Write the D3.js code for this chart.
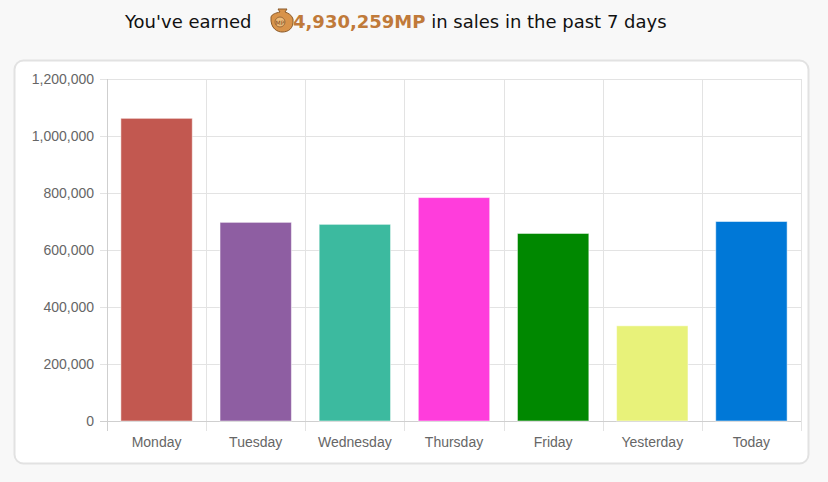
<!DOCTYPE html><html><head><meta charset="utf-8">
<script src="https://cdn.jsdelivr.net/npm/d3@7"></script>
<style>body{margin:0;background:#f8f8f8;}svg{display:block}</style></head><body>
<svg id="c" width="828" height="482"></svg>
<script>
const categories=["Monday","Tuesday","Wednesday","Thursday","Friday","Yesterday","Today"];
const values=[1062000,697000,690000,784000,658000,334000,700000];
const colors=["#c25850","#8e5ea2","#3cba9f","#ff3ddc","#008800","#e8f27a","#0078d7"];
const yTicks=[0,200000,400000,600000,800000,1000000,1200000];
const svg=d3.select("#c");
svg.append("rect").attr("x",14.5).attr("y",60.5).attr("width",794).attr("height",403).attr("rx",9).attr("fill","#fff").attr("stroke","#e2e2e2").attr("stroke-width",2);
// title
const t=svg.append("text").attr("y",28).attr("font-family","DejaVu Sans, Verdana").attr("font-size",18).attr("fill","#111");
t.append("tspan").attr("x",125).text("You've earned ");
const g=svg.append("g").attr("transform","translate(282,21)");
g.append("path").attr("d","M-11,-4 C-12,8 -4,11 0,11 C6,11 12,8 11,-2 C10,-6 6,-8 3,-9 L5,-12 L-4,-12 L-2,-9 C-6,-8 -10,-7 -11,-4Z").attr("fill","#d8934a").attr("stroke","#8a5a2a").attr("stroke-width",1);
g.append("circle").attr("cx",-2).attr("cy",1).attr("r",5).attr("fill","#eebc7a").attr("stroke","#9a6a3a");
g.append("text").attr("x",-2).attr("y",3.5).attr("text-anchor","middle").attr("font-size",6).attr("font-family","DejaVu Sans").attr("fill","#7a4a1a").text("MP");
const t2=svg.append("text").attr("y",28).attr("font-family","DejaVu Sans, Verdana").attr("font-size",18).attr("fill","#111");
t2.append("tspan").attr("x",293).attr("font-weight","bold").attr("fill","#c07a3a").text("4,930,259MP");
t2.append("tspan").text(" in sales in the past 7 days");
const x=d3.scaleBand().domain(categories).range([107,801]).paddingInner(0.28).paddingOuter(0.14);
const y=d3.scaleLinear().domain([0,1200000]).range([421,79]);
const xb=d3.scaleLinear().domain([0,7]).range([107,801]);
// grid
yTicks.forEach(v=>svg.append("line").attr("x1",100).attr("x2",801).attr("y1",y(v)+.5).attr("y2",y(v)+.5).attr("stroke","#e3e3e3"));
d3.range(8).forEach(i=>svg.append("line").attr("x1",Math.round(xb(i))+.5).attr("x2",Math.round(xb(i))+.5).attr("y1",79).attr("y2",431).attr("stroke","#e3e3e3"));
svg.append("line").attr("x1",107.5).attr("x2",107.5).attr("y1",79).attr("y2",431).attr("stroke","#cfcfcf");
svg.append("line").attr("x1",100).attr("x2",801).attr("y1",421.5).attr("y2",421.5).attr("stroke","#cfcfcf");
svg.selectAll(".b").data(values).join("rect").attr("x",(d,i)=>x(categories[i])).attr("width",x.bandwidth()).attr("y",d=>y(d)).attr("height",d=>y(0)-y(d)).attr("fill",(d,i)=>colors[i]).attr("stroke","rgba(255,255,255,0.5)");
const ya=svg.append("g").attr("transform","translate(100,0)").call(d3.axisLeft(y).tickValues(yTicks).tickSize(0).tickPadding(6).tickFormat(d3.format(",")));
ya.select(".domain").remove();
ya.selectAll("text").attr("font-family","Liberation Sans, Arial").attr("font-size",14).attr("fill","#666");
const xa=svg.append("g").attr("transform","translate(0,431)").call(d3.axisBottom(x).tickSize(0).tickPadding(6));
xa.select(".domain").remove();
xa.selectAll("text").attr("font-family","Liberation Sans, Arial").attr("font-size",14).attr("fill","#666");
</script></body></html>
